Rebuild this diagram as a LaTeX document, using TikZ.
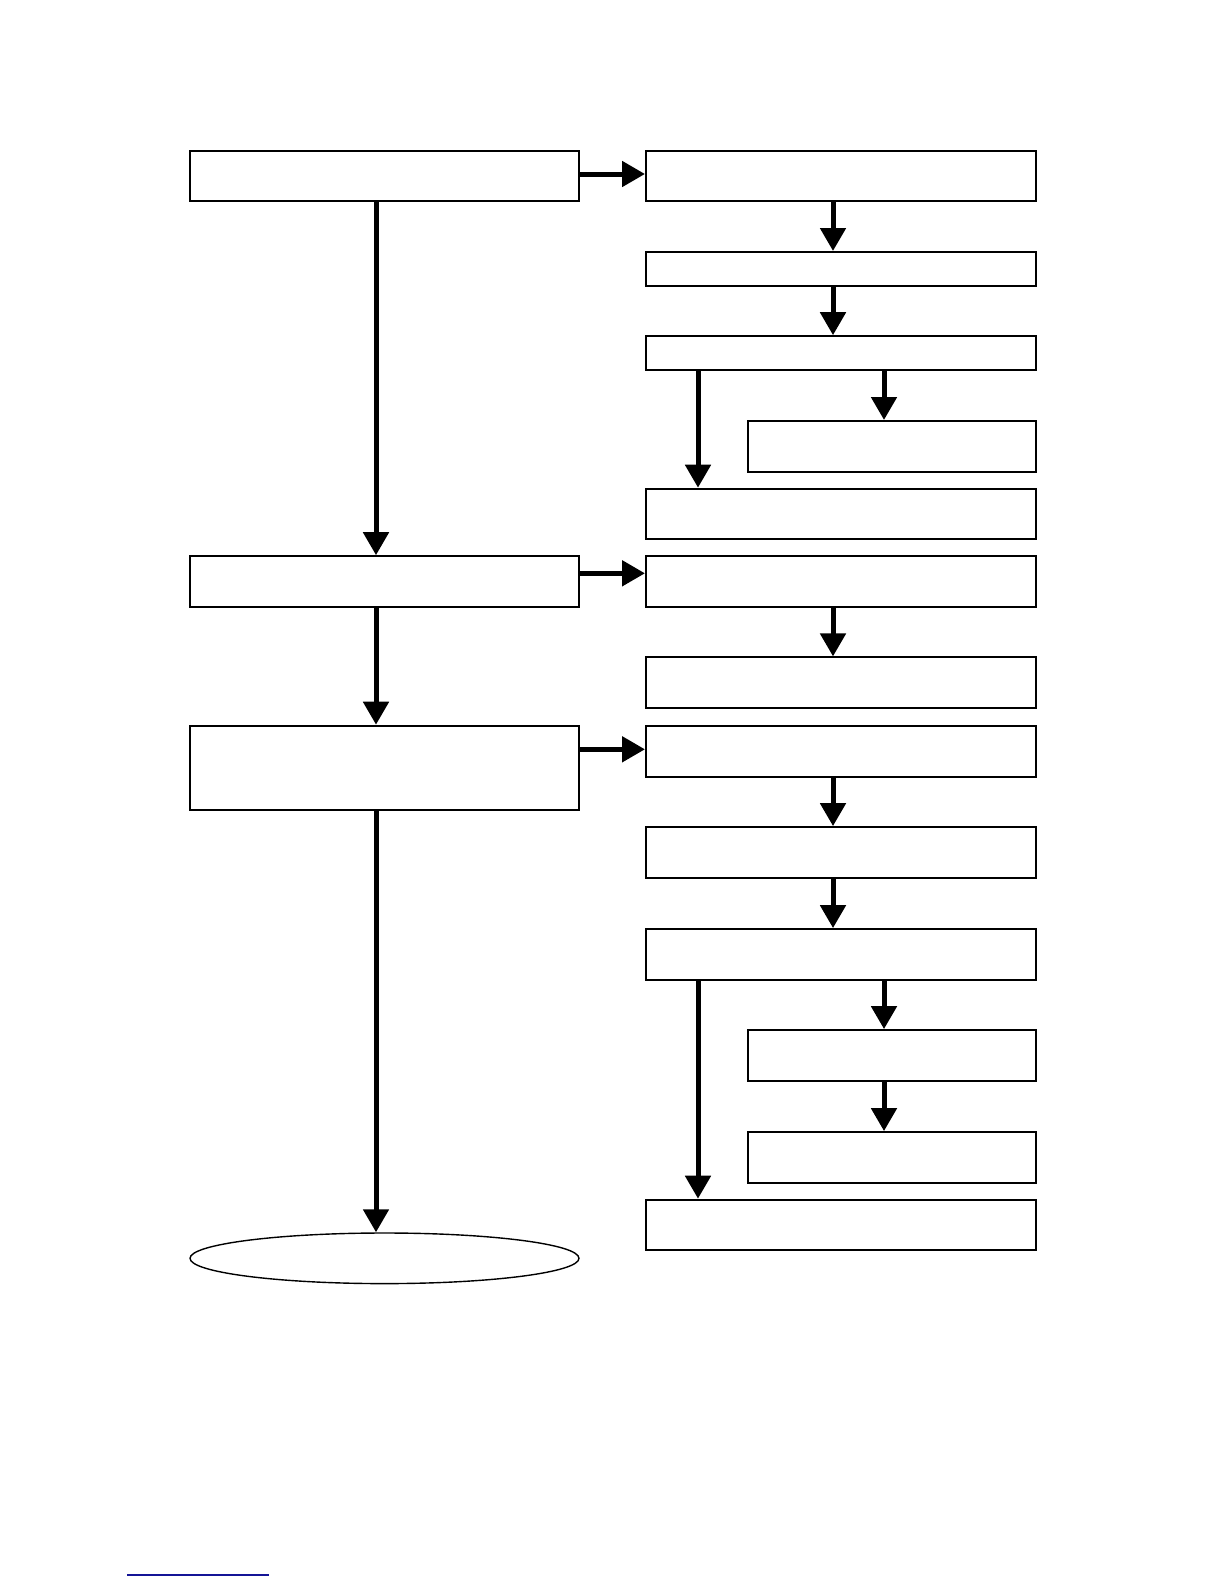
\documentclass[tikz,border=0pt]{standalone}
\usepackage{tikz}
\usetikzlibrary{shapes.geometric,arrows.meta,calc}
\definecolor{LinkBlue}{RGB}{20,20,150}

\begin{document}
\begin{tikzpicture}[x=0.5pt,y=-0.5pt,
    lbox/.style={draw,line width=1pt,inner sep=0pt,minimum width=194.5pt,minimum height=25.3pt},
    rbox/.style={draw,line width=1pt,inner sep=0pt,minimum width=195pt,minimum height=25.3pt},
    ibox/.style={draw,line width=1pt,inner sep=0pt,minimum width=144pt,minimum height=25.3pt},
    thin/.style={minimum height=16.8pt},
    arrow/.style={-{Triangle[length=11.5pt,width=12.5pt]},line width=2.5pt}]

    \useasboundingbox (0,0) rectangle (1224,1584);

    % left column
    \node[lbox] (A) at (384.5,176) {};
    \node[lbox] (B) at (384.5,581.5) {};
    \node[lbox,minimum height=42.2pt] (C) at (384.5,767.9) {};
    \node[draw,ellipse,line width=0.7pt,inner sep=0pt,
          minimum width=194.5pt,minimum height=25.3pt] (E) at (384.5,1258.3) {};

    % right column
    \node[rbox] (R1) at (841,176) {};
    \node[rbox,thin] (R2) at (841,268.8) {};
    \node[rbox,thin] (R3) at (841,353) {};
    \node[ibox] (R4) at (892,446.3) {};
    \node[rbox] (R5) at (841,514) {};
    \node[rbox] (R6) at (841,581.5) {};
    \node[rbox] (R7) at (841,682.7) {};
    \node[rbox] (R8) at (841,751.2) {};
    \node[rbox] (R9) at (841,852.4) {};
    \node[rbox] (R10) at (841,954.4) {};
    \node[ibox] (R11) at (892,1055.4) {};
    \node[ibox] (R12) at (892,1157.4) {};
    \node[rbox] (R13) at (841,1225) {};

    % arrow columns and rows
    \coordinate (colL) at (376,0);
    \coordinate (colR) at (833,0);
    \coordinate (colI) at (884,0);
    \coordinate (colB) at (698,0);
    \coordinate (rowA) at (0,174);
    \coordinate (rowB) at (0,573.3);
    \coordinate (rowC) at (0,749.3);

    \foreach \from/\to in {A/B, B/C, C/E}
      \draw[arrow] (\from.south -| colL) -- (\to.north -| colL);
    \foreach \from/\to in {R1/R2, R2/R3, R6/R7, R8/R9, R9/R10}
      \draw[arrow] (\from.south -| colR) -- (\to.north -| colR);
    \foreach \from/\to in {R3/R4, R10/R11, R11/R12}
      \draw[arrow] (\from.south -| colI) -- (\to.north -| colI);
    \foreach \from/\to in {R3/R5, R10/R13}
      \draw[arrow] (\from.south -| colB) -- (\to.north -| colB);
    \foreach \from/\to/\row in {A/R1/rowA, B/R6/rowB, C/R8/rowC}
      \draw[arrow] (\from.east |- \row) -- (\to.west |- \row);

    % link underline
    \draw[LinkBlue,line width=0.7pt] (127,1575) -- (269,1575);
\end{tikzpicture}
\end{document}
